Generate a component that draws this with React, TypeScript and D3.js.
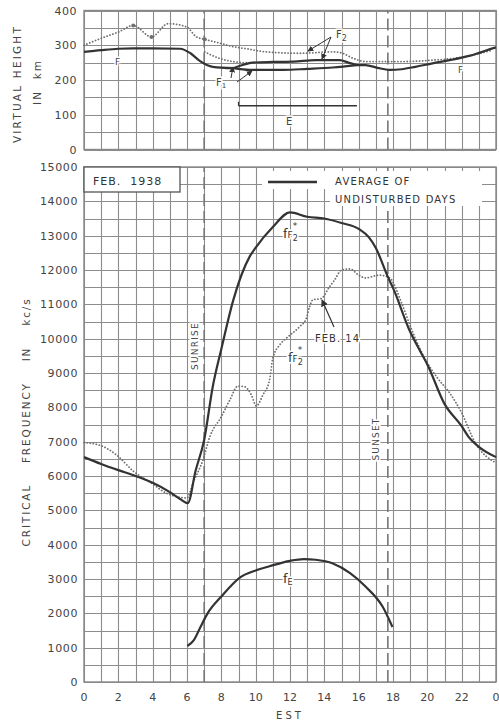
import React from "react";
import * as d3 from "d3";

// ---- data ----
const hourTicks = [0, 2, 4, 6, 8, 10, 12, 14, 16, 18, 20, 22, 24];
const hourTickLabels = ["0", "2", "4", "6", "8", "10", "12", "14", "16", "18", "20", "22", "0"];
const heightTicks = [0, 100, 200, 300, 400];
const freqTicks = [0, 1000, 2000, 3000, 4000, 5000, 6000, 7000, 8000, 9000, 10000, 11000, 12000, 13000, 14000, 15000];
const sunrise = 7;
const sunset = 17.7;

// critical frequency, average of undisturbed days (fF2*)
const avgHours = [0, 1, 2, 3, 4, 5, 5.6, 6.05, 6.5, 7, 7.5, 8, 8.7, 9.65, 10, 11, 12, 13, 14, 15, 16, 16.6, 17, 17.7, 18, 19, 19.6, 20, 21, 22, 22.4, 23, 24];
const avgFreq = [6550, 6350, 6170, 6000, 5800, 5530, 5330, 5210, 6150, 7050, 8600, 9700, 11130, 12390, 12650, 13250, 13680, 13550, 13500, 13370, 13200, 12950, 12640, 11800, 11480, 10200, 9620, 9250, 8100, 7450, 7140, 6850, 6550];

// critical frequency, Feb. 14 (dotted)
const feb14Hours = [0, 0.9, 1.9, 2.9, 3.9, 4.8, 5.6, 6.0, 6.35, 6.93, 7.33, 8.0, 8.49, 8.97, 9.36, 9.75, 10.04, 10.42, 10.81, 11.0, 11.4, 11.78, 12.56, 12.95, 13.14, 13.33, 13.82, 14.3, 14.6, 15.0, 15.5, 16.0, 16.4, 17.2, 17.8, 18.5, 19.1, 19.9, 20.6, 21.3, 22.0, 22.8, 24];
const feb14Freq = [6970, 6900, 6610, 6130, 5800, 5500, 5380, 5360, 5800, 6470, 7145, 7730, 8210, 8620, 8600, 8360, 8040, 8360, 8800, 9430, 9820, 10010, 10350, 10590, 10930, 11130, 11170, 11510, 11710, 12000, 12030, 11850, 11770, 11850, 11770, 11040, 10250, 9380, 8850, 8420, 7840, 6960, 6380];

// fE
const eHours = [6.02, 6.4, 6.8, 7.2, 8.0, 9.1, 10, 10.8, 12, 12.8, 13.5, 14.5, 15.5, 16.4, 17.4, 17.97];
const eFreq = [1050, 1220, 1620, 2000, 2490, 3050, 3250, 3370, 3530, 3580, 3560, 3450, 3170, 2780, 2190, 1600];

// virtual heights (km), average
const fHours = [0, 1, 2, 2.85, 4, 5.6, 6.2, 6.74, 7.5, 8.7];
const fHeight = [281, 286, 290, 291, 291, 290, 277, 255, 238, 234];
const f2Hours = [8.7, 9.3, 9.8, 11, 12.2, 13.5, 14.9, 15.4, 15.9];
const f2Height = [234, 244, 250, 252, 253, 257, 257, 250, 243];
const f1Hours = [8.7, 9.65, 11.6, 13, 14.5, 15.9];
const f1Height = [234, 229, 229, 232, 236, 243];
const fLateHours = [15.9, 16.4, 17.1, 17.8, 18.5, 19.3, 20.3, 21.3, 22.5, 23.8, 24];
const fLateHeight = [243, 243, 235, 229, 231, 238, 248, 257, 270, 291, 294];
const eLayerHours = [9, 15.9];
const eLayerHeight = [126, 126];

// virtual heights, Feb. 14 (dotted)
const dotFHours = [0, 1, 2, 2.87, 3.93, 4.9, 5.97, 6.55, 7.03, 8.0, 8.67, 9.46, 10.6, 12.6, 14.5, 15.0, 15.7, 16.4, 18.4, 20.3, 22.2, 23.8];
const dotFHeight = [300, 320, 338, 357, 324, 362, 353, 324, 317, 305, 296, 290, 281, 277, 281, 278, 262, 253, 253, 257, 267, 286];
const dotF1Hours = [7.03, 7.9, 8.67, 9.3, 9.8];
const dotF1Height = [281, 262, 253, 250, 250];
const dotMarkHours = [2.87, 3.93, 7.03];
const dotMarkHeight = [357, 324, 317];

const gridHours = d3.range(0, 25);
const gridHeights = d3.range(0, 401, 50);
const gridFreqs = d3.range(0, 15001, 500);

const W = 499;
const H = 721;
const left = 84;
const right = 496;

const x = d3.scaleLinear().domain([0, 24]).range([left, right]);
const yTop = d3.scaleLinear().domain([0, 400]).range([149.5, 10.5]);
const yBot = d3.scaleLinear().domain([0, 15000]).range([682, 167]);

const zip = (a: number[], b: number[]) => a.map((v, i) => [v, b[i]] as [number, number]);

const lineTop = d3
  .line<[number, number]>()
  .x((d) => x(d[0]))
  .y((d) => yTop(d[1]))
  .curve(d3.curveMonotoneX);
const lineBot = d3
  .line<[number, number]>()
  .x((d) => x(d[0]))
  .y((d) => yBot(d[1]))
  .curve(d3.curveMonotoneX);

const ink = "#333";
const dotInk = "#707070";
const gridInk = "#8c8c8c";
const font = "'DejaVu Sans', sans-serif";

const solid = { fill: "none", stroke: ink, strokeWidth: 2.2, strokeLinejoin: "round" as const };
const dotted = { fill: "none", stroke: dotInk, strokeWidth: 1.8, strokeDasharray: "0.1 3", strokeLinecap: "round" as const };
const halo = { stroke: "#fff", strokeWidth: 3, paintOrder: "stroke" as const };

const FF2 = ({ px, py }: { px: number; py: number }) => (
  <text x={px} y={py} fontSize={13} fill="#333" {...halo}>
    f<tspan fontSize={9}>F</tspan>
    <tspan fontSize={8} dy={3}>2</tspan>
    <tspan fontSize={9} dx={-5} dy={-12}>*</tspan>
  </text>
);

const App = () => {
  const snap = (v: number) => Math.round(v) + 0.5;
  return (
    <svg width={W} height={H} style={{ position: "absolute", left: 0, top: 0 }} fontFamily={font}>
      <defs>
        <marker id="arr" viewBox="0 0 8 8" refX="7" refY="4" markerWidth="6" markerHeight="6" orient="auto">
          <path d="M0,0 L8,4 L0,8 z" fill={ink} />
        </marker>
      </defs>

      {/* grids */}
      <g stroke={gridInk} strokeWidth={1.1}>
        {gridHours.map((h) => (
          <line key={"tv" + h} x1={snap(x(h))} x2={snap(x(h))} y1={10.5} y2={149.5} />
        ))}
        {gridHeights.map((v) => (
          <line key={"th" + v} x1={left} x2={right} y1={snap(yTop(v))} y2={snap(yTop(v))} />
        ))}
        {gridHours.map((h) => (
          <line key={"bv" + h} x1={snap(x(h))} x2={snap(x(h))} y1={167} y2={682} />
        ))}
        {gridFreqs.map((v) => (
          <line key={"bh" + v} x1={left} x2={right} y1={snap(yBot(v))} y2={snap(yBot(v))} />
        ))}
      </g>
      <rect x={left} y={10.5} width={right - left} height={139} fill="none" stroke="#888" strokeWidth={1.4} />
      <rect x={left} y={167} width={right - left} height={515} fill="none" stroke="#888" strokeWidth={1.4} />
      {[sunrise, sunset].map((h) => (
        <g key={"s" + h} stroke="#777" strokeWidth={1.6} strokeDasharray="12 5">
          <line x1={x(h)} x2={x(h)} y1={149.5} y2={10.5} />
          <line x1={x(h)} x2={x(h)} y1={682} y2={167} />
        </g>
      ))}

      {/* ---- top panel: virtual height ---- */}
      {heightTicks.map((t) => (
        <text key={t} x={77} y={yTop(t) + 4} textAnchor="end" fontSize={11} letterSpacing={0.5} fill="#444">
          {t}
        </text>
      ))}
      <text transform={`translate(21,84) rotate(-90)`} textAnchor="middle" fontSize={10.5} letterSpacing={2.2} fill="#444">
        VIRTUAL HEIGHT
      </text>
      <text transform={`translate(41,82) rotate(-90)`} textAnchor="middle" fontSize={10.5} letterSpacing={2} fill="#444" xmlSpace="preserve">
        IN  km
      </text>

      <path d={lineTop(zip(dotFHours, dotFHeight)) || ""} {...dotted} />
      <path d={lineTop(zip(dotF1Hours, dotF1Height)) || ""} {...dotted} />
      {dotMarkHours.map((h, i) => (
        <circle key={h} cx={x(h)} cy={yTop(dotMarkHeight[i])} r={2} fill={dotInk} />
      ))}
      <path d={lineTop(zip(fHours, fHeight)) || ""} {...solid} />
      <path d={lineTop(zip(f2Hours, f2Height)) || ""} {...solid} />
      <path d={lineTop(zip(f1Hours, f1Height)) || ""} {...solid} />
      <path d={lineTop(zip(fLateHours, fLateHeight)) || ""} {...solid} />
      <path d={lineTop(zip(eLayerHours, eLayerHeight)) || ""} {...solid} strokeWidth={1.6} />
      <line x1={x(eLayerHours[0])} x2={x(eLayerHours[0])} y1={yTop(eLayerHeight[0])} y2={yTop(eLayerHeight[0]) - 4} stroke={ink} strokeWidth={1.2} />

      <text x={115} y={65} fontSize={9} fill="#444" {...halo}>F</text>
      <text x={458} y={73} fontSize={9} fill="#444" {...halo}>F</text>
      <text x={286} y={125} fontSize={10} fill="#444" {...halo}>E</text>
      <text x={216} y={86} fontSize={10} fill="#444" {...halo}>
        F<tspan fontSize={7} dy={2}>1</tspan>
      </text>
      <text x={336} y={38} fontSize={10} fill="#444" {...halo}>
        F<tspan fontSize={8} dy={3}>2</tspan>
      </text>
      <line x1={331} y1={37} x2={308} y2={51} stroke={ink} strokeWidth={1} markerEnd="url(#arr)" />
      <line x1={331} y1={37} x2={322} y2={59} stroke={ink} strokeWidth={1} markerEnd="url(#arr)" />
      <line x1={237} y1={82} x2={252} y2={71} stroke={ink} strokeWidth={1} markerEnd="url(#arr)" />
      <line x1={231} y1={78} x2={233} y2={67} stroke={ink} strokeWidth={1} markerEnd="url(#arr)" />

      {/* ---- bottom panel: critical frequency ---- */}
      {freqTicks.map((t) => (
        <text key={t} x={78} y={yBot(t) + 4} textAnchor="end" fontSize={11} letterSpacing={0.6} fill="#444">
          {t}
        </text>
      ))}
      {hourTicks.map((h, i) => (
        <text key={h} x={x(h)} y={701} textAnchor="middle" fontSize={11} fill="#444">
          {hourTickLabels[i]}
        </text>
      ))}
      <text x={290} y={719} textAnchor="middle" fontSize={10} letterSpacing={3} fill="#444">
        EST
      </text>
      <text
        transform={`translate(30,422) rotate(-90)`}
        textAnchor="middle"
        fontSize={10.5}
        letterSpacing={1.8}
        fill="#444"
        textLength={249}
        lengthAdjust="spacing"
        xmlSpace="preserve"
      >
        CRITICAL    FREQUENCY    IN    kc/s
      </text>

      {/* legend */}
      <rect x={84} y={167} width={96} height={25} fill="#fff" stroke="#555" strokeWidth={1.3} />
      <text x={93} y={185} fontSize={11} letterSpacing={1} fill="#333" xmlSpace="preserve">
        FEB.  1938
      </text>
      <rect x={262} y={171} width={220} height={18} fill="#fff" />
      <rect x={330} y={189} width={152} height={17} fill="#fff" />
      <line x1={268} x2={317} y1={182} y2={182} stroke={ink} strokeWidth={2.4} />
      <text x={335} y={185} fontSize={10} letterSpacing={1.2} fill="#333">
        AVERAGE OF
      </text>
      <text x={335} y={203} fontSize={10} letterSpacing={1.2} fill="#333">
        UNDISTURBED DAYS
      </text>

      <text transform={`translate(198,346) rotate(-90)`} textAnchor="middle" fontSize={9} letterSpacing={1.2} fill="#444" {...halo}>
        SUNRISE
      </text>
      <text transform={`translate(379,439) rotate(-90)`} textAnchor="middle" fontSize={9} letterSpacing={1.2} fill="#444" {...halo}>
        SUNSET
      </text>

      <path d={lineBot(zip(feb14Hours, feb14Freq)) || ""} {...dotted} />
      <path d={lineBot(zip(avgHours, avgFreq)) || ""} {...solid} />
      <path d={lineBot(zip(eHours, eFreq)) || ""} {...solid} />

      <FF2 px={283} py={238} />
      <FF2 px={288} py={362} />
      <text x={315} y={342} fontSize={10} letterSpacing={1} fill="#333" {...halo}>
        FEB. 14
      </text>
      <line x1={334} y1={327} x2={322} y2={300} stroke={ink} strokeWidth={1.2} markerEnd="url(#arr)" />
      <text x={283} y={583} fontSize={13} fill="#333" {...halo}>
        f<tspan fontSize={8} dy={2}>E</tspan>
      </text>
    </svg>
  );
};

export default App;
